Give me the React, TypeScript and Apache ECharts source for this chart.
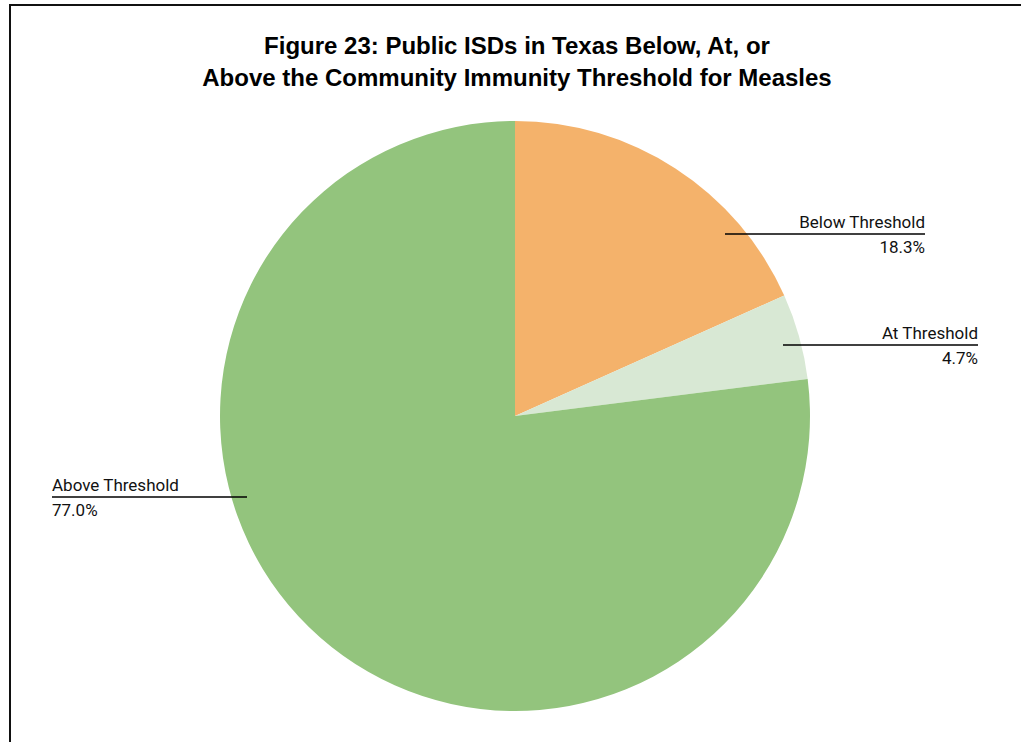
import React, { useEffect, useRef } from "react";
import * as echarts from "echarts";

const categories = ["Below Threshold", "At Threshold", "Above Threshold"];
const values = [18.3, 4.7, 77.0];
const colors = ["#F4B26B", "#D8E8D4", "#93C47D"];
const titleLines = [
  "Figure 23: Public ISDs in Texas Below, At, or",
  "Above the Community Immunity Threshold for Measles",
];

// label anchor layout: [lineStartX, lineEndX, lineY, align]
const labelAnchors: [number, number, number, "left" | "right"][] = [
  [725, 925, 234, "right"],
  [783, 978, 345, "right"],
  [247, 52, 497, "left"],
];

export default function App() {
  const ref = useRef<HTMLDivElement>(null);
  useEffect(() => {
    if (!ref.current) return;
    const chart = echarts.init(ref.current, undefined, { renderer: "svg" });
    const pieBase = {
      type: "pie",
      center: [515, 416],
      radius: 295,
      startAngle: 90,
      clockwise: true,
      emphasis: { disabled: true },
    };
    chart.setOption({
      animation: false,
      backgroundColor: "#ffffff",
      title: {
        text: titleLines.join("\n"),
        left: 512,
        top: 24,
        textAlign: "center",
        textStyle: {
          fontFamily: "Liberation Sans",
          fontWeight: "bold",
          fontSize: 24,
          lineHeight: 32,
          color: "#000",
        },
      },
      graphic: [
        {
          type: "line",
          shape: { x1: 10, y1: 4, x2: 10, y2: 742 },
          style: { stroke: "#111", lineWidth: 2 },
        },
        {
          type: "line",
          shape: { x1: 9, y1: 5, x2: 1021, y2: 5 },
          style: { stroke: "#111", lineWidth: 2 },
        },
      ],
      series: [
        {
          ...pieBase,
          z: 1,
          data: categories.map((c, i) => ({
            name: c,
            value: values[i],
            itemStyle: { color: colors[i] },
          })),
          label: { show: false },
          labelLine: { show: false },
        },
        {
          ...pieBase,
          z: 5,
          silent: true,
          data: categories.map((c, i) => ({
            name: c,
            value: values[i],
            itemStyle: { color: "rgba(0,0,0,0)" },
          })),
          label: {
            show: true,
            formatter: (p: any) => `{n|${p.name}}\n{v|${p.value.toFixed(1)}%}`,
            rich: {
              n: {
                fontFamily: "Roboto",
                fontSize: 17,
                lineHeight: 25,
                color: "#111",
              },
              v: {
                fontFamily: "Roboto",
                fontSize: 17,
                lineHeight: 25,
                color: "#111",
              },
            },
          },
          labelLine: {
            show: true,
            lineStyle: { color: "#000", width: 1.5 },
          },
          labelLayout: (params: any) => {
            const [sx, ex, y, align] = labelAnchors[params.dataIndex];
            return {
              x: ex,
              y: y,
              align,
              verticalAlign: "middle",
              labelLinePoints: [
                [sx, y],
                [(sx + ex) / 2, y],
                [ex, y],
              ],
            };
          },
        },
      ],
    });
    return () => chart.dispose();
  }, []);
  return (
    <div
      ref={ref}
      style={{ position: "fixed", left: 0, top: 0, width: 1021, height: 742 }}
    />
  );
}
